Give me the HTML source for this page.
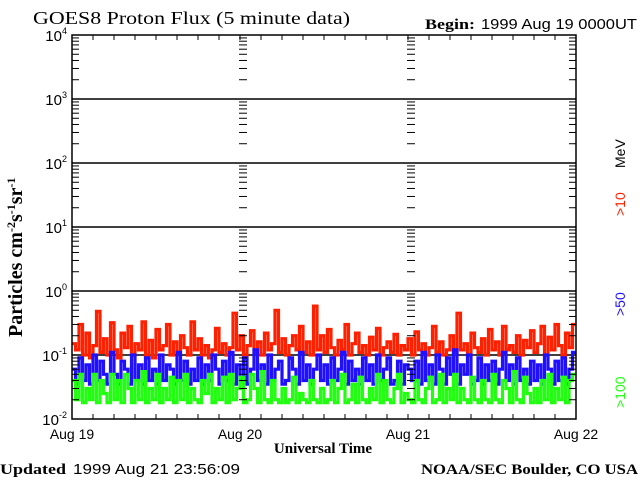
<!DOCTYPE html>
<html><head><meta charset="utf-8"><style>
body{margin:0;background:#fff}
svg{display:block}
.s{font-family:"Liberation Sans",sans-serif}
.f{font-family:"Liberation Serif",serif;font-weight:bold}
.g{font-family:"Liberation Serif",serif}
</style></head><body>
<svg id="chart" width="640" height="480" viewBox="0 0 640 480">
<text class="g" x="33" y="24" font-size="18" textLength="317" lengthAdjust="spacingAndGlyphs">GOES8 Proton Flux (5 minute data)</text>
<text class="f" x="425" y="29" font-size="15" textLength="50" lengthAdjust="spacingAndGlyphs">Begin:</text>
<text class="s" x="481" y="29" font-size="15" textLength="156" lengthAdjust="spacingAndGlyphs">1999 Aug 19 0000UT</text>
<text class="f" x="0" y="0" font-size="20" transform="translate(22,337) rotate(-90)">Particles cm<tspan dy="-7" font-size="12">-2</tspan><tspan dy="7">s</tspan><tspan dy="-7" font-size="12">-1</tspan><tspan dy="7">sr</tspan><tspan dy="-7" font-size="12">-1</tspan></text>
<text class="f" x="323" y="453" font-size="15" text-anchor="middle">Universal Time</text>
<text class="f" x="0" y="474" font-size="15" textLength="66" lengthAdjust="spacingAndGlyphs">Updated</text>
<text class="s" x="73" y="474" font-size="15" textLength="167" lengthAdjust="spacingAndGlyphs">1999 Aug 21 23:56:09</text>
<text class="f" x="421" y="474" font-size="15" textLength="217" lengthAdjust="spacingAndGlyphs">NOAA/SEC Boulder, CO USA</text>
<g class="s" font-size="14">
<text transform="translate(625,216) rotate(-90)" fill="#ff2000">&gt;10</text>
<text transform="translate(625,168) rotate(-90)" fill="#000">MeV</text>
<text transform="translate(625,316) rotate(-90)" fill="#2010ff">&gt;50</text>
<text transform="translate(625,408) rotate(-90)" fill="#20ff10">&gt;100</text>
</g>
<g id="grid"></g>
<g id="series"></g>
<g id="axes"></g>
</svg>
<script>
const NS="http://www.w3.org/2000/svg";
const dayLabels=["Aug 19","Aug 20","Aug 21","Aug 22"];
const decades=[-2,-1,0,1,2,3,4];
const red=[.15,.12,.30,.10,.22,.09,.14,.48,.11,.18,.10,.32,
.12,.09,.22,.13,.28,.10,.15,.12,.33,.10,.17,.09,
.25,.12,.14,.30,.10,.16,.11,.20,.13,.10,.33,.12,
.18,.10,.14,.09,.12,.26,.11,.15,.10,.13,.45,.12,
.20,.10,.14,.24,.11,.16,.10,.22,.12,.15,.50,.11,
.18,.10,.14,.20,.12,.28,.11,.16,.10,.58,.12,.20,
.11,.25,.13,.10,.17,.12,.30,.10,.15,.22,.11,.14,
.10,.19,.12,.26,.10,.13,.16,.11,.21,.10,.14,.12,
.18,.10,.23,.12,.15,.10,.13,.28,.11,.16,.10,.12,
.20,.11,.45,.12,.15,.10,.22,.13,.11,.18,.10,.25,
.12,.16,.10,.28,.12,.14,.11,.20,.10,.17,.13,.24,
.11,.15,.28,.10,.19,.12,.30,.14,.10,.22,.13,.30];
const blue=[.06,.035,.09,.04,.07,.035,.10,.04,.08,.05,.035,.11,
.05,.035,.08,.06,.035,.10,.04,.07,.035,.09,.04,.06,
.035,.10,.04,.07,.06,.035,.11,.04,.08,.035,.06,.04,
.09,.035,.07,.04,.10,.06,.035,.08,.04,.11,.035,.07,
.04,.09,.035,.06,.12,.04,.07,.035,.10,.04,.06,.08,
.035,.04,.09,.06,.035,.11,.04,.07,.035,.06,.10,.04,
.07,.035,.09,.04,.06,.11,.035,.08,.04,.06,.035,.09,
.04,.07,.035,.10,.04,.06,.09,.035,.04,.08,.035,.07,
.06,.04,.08,.035,.11,.04,.07,.035,.10,.06,.035,.09,
.05,.12,.035,.07,.05,.10,.035,.04,.09,.035,.07,.04,
.08,.035,.06,.11,.04,.07,.035,.09,.04,.06,.035,.08,
.04,.07,.035,.10,.06,.035,.08,.04,.09,.035,.06,.11];
const green=[.04,.02,.05,.018,.03,.02,.05,.018,.04,.025,.018,.05,
.02,.04,.018,.05,.03,.018,.04,.02,.055,.018,.03,.02,
.05,.018,.03,.02,.045,.018,.04,.02,.05,.018,.03,.02,
.018,.04,.025,.05,.018,.03,.02,.045,.018,.05,.02,.03,
.045,.018,.02,.05,.03,.018,.055,.02,.018,.04,.02,.018,
.03,.018,.02,.045,.018,.025,.02,.018,.04,.02,.018,.03,
.018,.02,.04,.018,.03,.05,.018,.02,.035,.018,.045,.02,
.018,.03,.02,.05,.018,.04,.02,.018,.03,.05,.018,.025,
.02,.018,.04,.02,.018,.03,.045,.018,.02,.05,.018,.03,
.02,.05,.018,.03,.02,.018,.045,.02,.018,.04,.02,.018,
.05,.02,.018,.04,.03,.018,.055,.02,.018,.045,.025,.018,
.03,.018,.04,.02,.05,.018,.03,.02,.045,.018,.04,.05];

const L=72,R=576,T=35,B=419;
const yOf=v=>B-(Math.log10(v)+2)*(B-T)/6;
const xOf=t=>L+t*(R-L)/3;
function mk(tag,parent,attrs){const e=document.createElementNS(NS,tag);for(const k in attrs)e.setAttribute(k,attrs[k]);parent.appendChild(e);return e;}
const grid=document.getElementById('grid'),axes=document.getElementById('axes'),ser=document.getElementById('series');

decades.forEach(d=>{
  const y=yOf(Math.pow(10,d));
  if(d>-2&&d<4){const g=mk('line',grid,{x1:L,x2:R,y1:y,y2:y,stroke:'#000','stroke-width':1.5});
  
  }
  const t=mk('text',axes,{x:L-5,y:y+6,'text-anchor':'end','font-size':15,class:'s'});
  
  
  t.textContent='10';
  const s=mk('tspan',t,{dy:-7,'font-size':9});s.textContent=String(d);
  if(d<4){for(let m=2;m<=9;m++){const ym=yOf(m*Math.pow(10,d));
    [L,240,408,R].forEach((x,i)=>{
      if(i===0||i===3){const x1=i===3?x-7:x,x2=i===3?x:x+7;
      const tk=mk('line',axes,{x1:x1,x2:x2,y1:ym,y2:ym,stroke:'#000','stroke-width':1});
      
      }
      else{const tk=mk('line',axes,{x1:x-1,x2:x+7,y1:ym,y2:ym,stroke:'#000','stroke-width':1});
      
      }
    });}}
});
for(let h=0;h<=72;h+=3){const x=xOf(h/24);
  [[B,B-5],[T,T+5]].forEach(p=>{const tk=mk('line',axes,{x1:x,x2:x,y1:p[0],y2:p[1],stroke:'#000','stroke-width':1});
  
  });}
dayLabels.forEach((lab,i)=>{const t=mk('text',axes,{x:xOf(i),y:439,'text-anchor':'middle','font-size':14,class:'s'});
  
  
  t.textContent=lab;});
function draw(arr,color,name){
  const n=arr.length;let d='';
  arr.forEach((v,i)=>{const x0=xOf(3*i/n),x1=xOf(3*(i+1)/n),y=yOf(v);d+=(i?'L':'M')+x0.toFixed(1)+' '+y.toFixed(1)+'L'+x1.toFixed(1)+' '+y.toFixed(1);});
  const p=mk('path',ser,{d:d,fill:'none',stroke:color,'stroke-width':3.2,'stroke-linejoin':'miter'});
  
  
}
draw(red,'#ff2000','series-gt10mev');
draw(blue,'#2010ff','series-gt50mev');
draw(green,'#20ff10','series-gt100mev');
const fr=mk('rect',axes,{x:L,y:T,width:R-L,height:B-T,fill:'none',stroke:'#000','stroke-width':1.5});


</script>
</body></html>
